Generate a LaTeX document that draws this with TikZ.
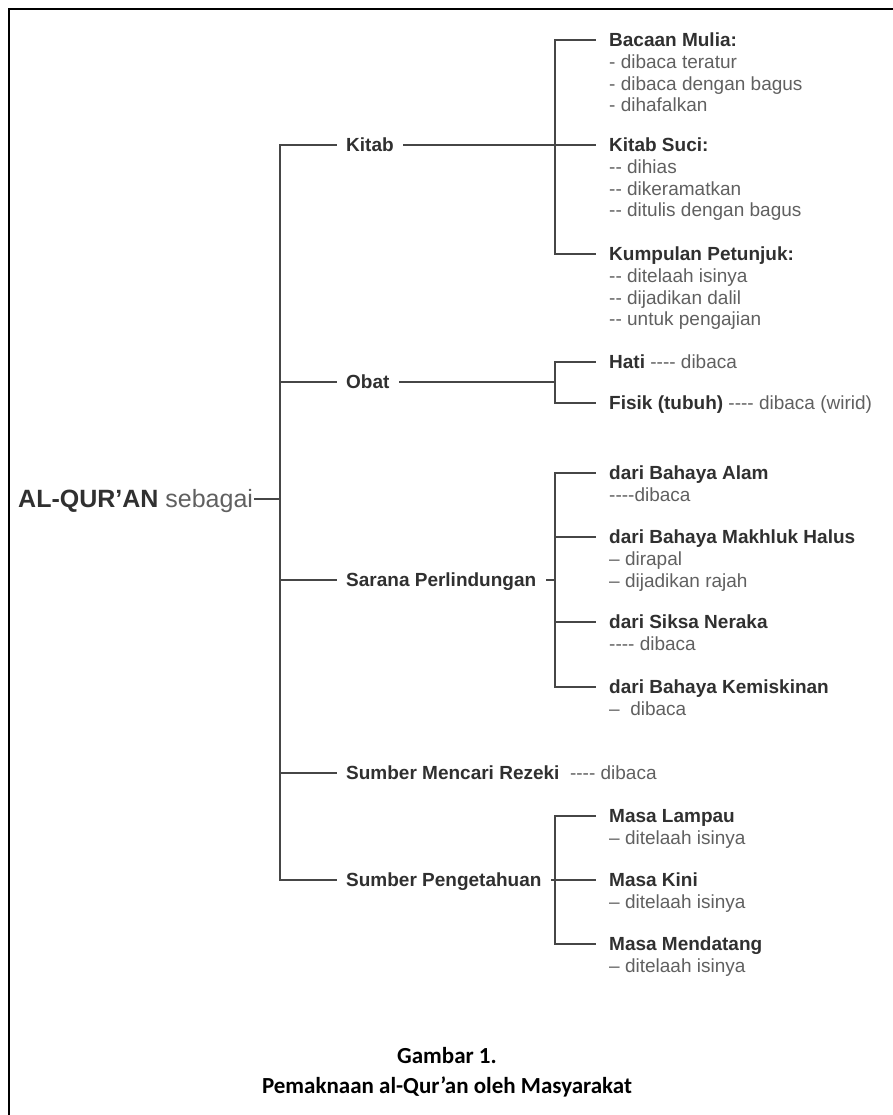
\documentclass[tikz,border=0pt]{standalone}
\usepackage{fontspec}
\newfontfamily\arial{Liberation Sans}[Ligatures=TeXOff]
\newfontfamily\calibri{Carlito}[Ligatures=TeXOff]
\definecolor{ink}{HTML}{303030}
\definecolor{soft}{HTML}{606060}
\definecolor{wirec}{HTML}{464646}
\newcommand\hd[1]{\textcolor{ink}{\bfseries #1}}
\begin{document}
\begin{tikzpicture}[x=1pt,y=-1pt,
  wire/.style={draw=wirec,line width=1.8pt,line cap=rect},
  main/.style={anchor=west,inner xsep=10pt,inner ysep=0pt,text height=14pt,text depth=0.5pt,
    font=\arial\fontsize{19}{21.5}\selectfont\bfseries,text=ink},
  leaf/.style={anchor=west,inner xsep=14pt,inner ysep=0pt,text height=14pt,text depth=0.5pt,
    font=\arial\fontsize{19}{21.5}\selectfont,text=soft},
  sub/.style={anchor=north west,inner sep=0pt,align=left,font=\arial\fontsize{19}{21.5}\selectfont,text=soft},
  caption/.style={inner sep=0pt,font=\calibri\fontsize{23}{27}\selectfont\bfseries}]
\useasboundingbox (0,0) rectangle (893,1115);
\draw[line width=2.5pt] (9,1115) -- (9,9) -- (893,9);
\coordinate (tr) at (280,499);
\coordinate (br) at (555,499);
\node[anchor=west,inner xsep=2pt,inner ysep=0pt,text height=18pt,text depth=0.5pt,
  font=\arial\fontsize{25}{30}\selectfont,text=soft] (root) at (16,499) {\hd{AL-QUR’AN} sebagai};
\foreach \n/\y/\t in {kitab/145/Kitab,obat/382/Obat,sarana/580/Sarana Perlindungan,pengetahuan/880/Sumber Pengetahuan}
  \node[main] (\n) at (336,\y) {\t};
\node[main] (rezeki) at (336,773) {Sumber Mencari Rezeki\ \ \textcolor{soft}{\mdseries ----\ dibaca}};
\foreach \n/\y/\t/\d in {
  bacaan/40/Bacaan Mulia:/{- dibaca teratur\\- dibaca dengan bagus\\- dihafalkan},
  suci/145/Kitab Suci:/{-- dihias\\-- dikeramatkan\\-- ditulis dengan bagus},
  kumpulan/254/Kumpulan Petunjuk:/{-- ditelaah isinya\\-- dijadikan dalil\\-- untuk pengajian},
  alam/473/dari Bahaya Alam/{----dibaca},
  makhluk/537/dari Bahaya Makhluk Halus/{– dirapal\\– dijadikan rajah},
  siksa/622/dari Siksa Neraka/{---- dibaca},
  miskin/687/dari Bahaya Kemiskinan/{–\ \ dibaca},
  lampau/816/Masa Lampau/{– ditelaah isinya},
  kini/880/Masa Kini/{– ditelaah isinya},
  mendatang/944/Masa Mendatang/{– ditelaah isinya}}
{
  \node[leaf] (\n) at (595,\y) {\hd{\t}};
  \node[sub] (\n-d) at ([xshift=14pt]\n.south west) {\rule{0pt}{21pt}\d};
  \draw[wire] (\n.west -| br) -- (\n.west);
}
\node[leaf] (hati) at (595,362) {\hd{Hati} ---- dibaca};
\node[leaf] (fisik) at (595,403) {\hd{Fisik (tubuh)} ---- dibaca (wirid)};
\draw[wire] (root.east) -- (tr);
\draw[wire] (kitab.west -| tr) -- (pengetahuan.west -| tr);
\foreach \n in {kitab,obat,sarana,rezeki,pengetahuan}
  \draw[wire] (\n.west) -- (\n.west -| tr);
\foreach \n in {kitab,obat,sarana,pengetahuan}
  \draw[wire] (\n.east) -- (\n.east -| br);
\draw[wire] (bacaan.west -| br) -- (kumpulan.west -| br);
\draw[wire] (hati.west) -- (hati.west -| br) -- (fisik.west -| br) -- (fisik.west);
\draw[wire] (alam.west -| br) -- (miskin.west -| br);
\draw[wire] (lampau.west -| br) -- (mendatang.west -| br);
\node[caption] (gambar) at (447,1056) {Gambar 1.};
\node[caption] (judul) at (447,1087) {Pemaknaan al-Qur’an oleh Masyarakat};
\end{tikzpicture}
\end{document}
